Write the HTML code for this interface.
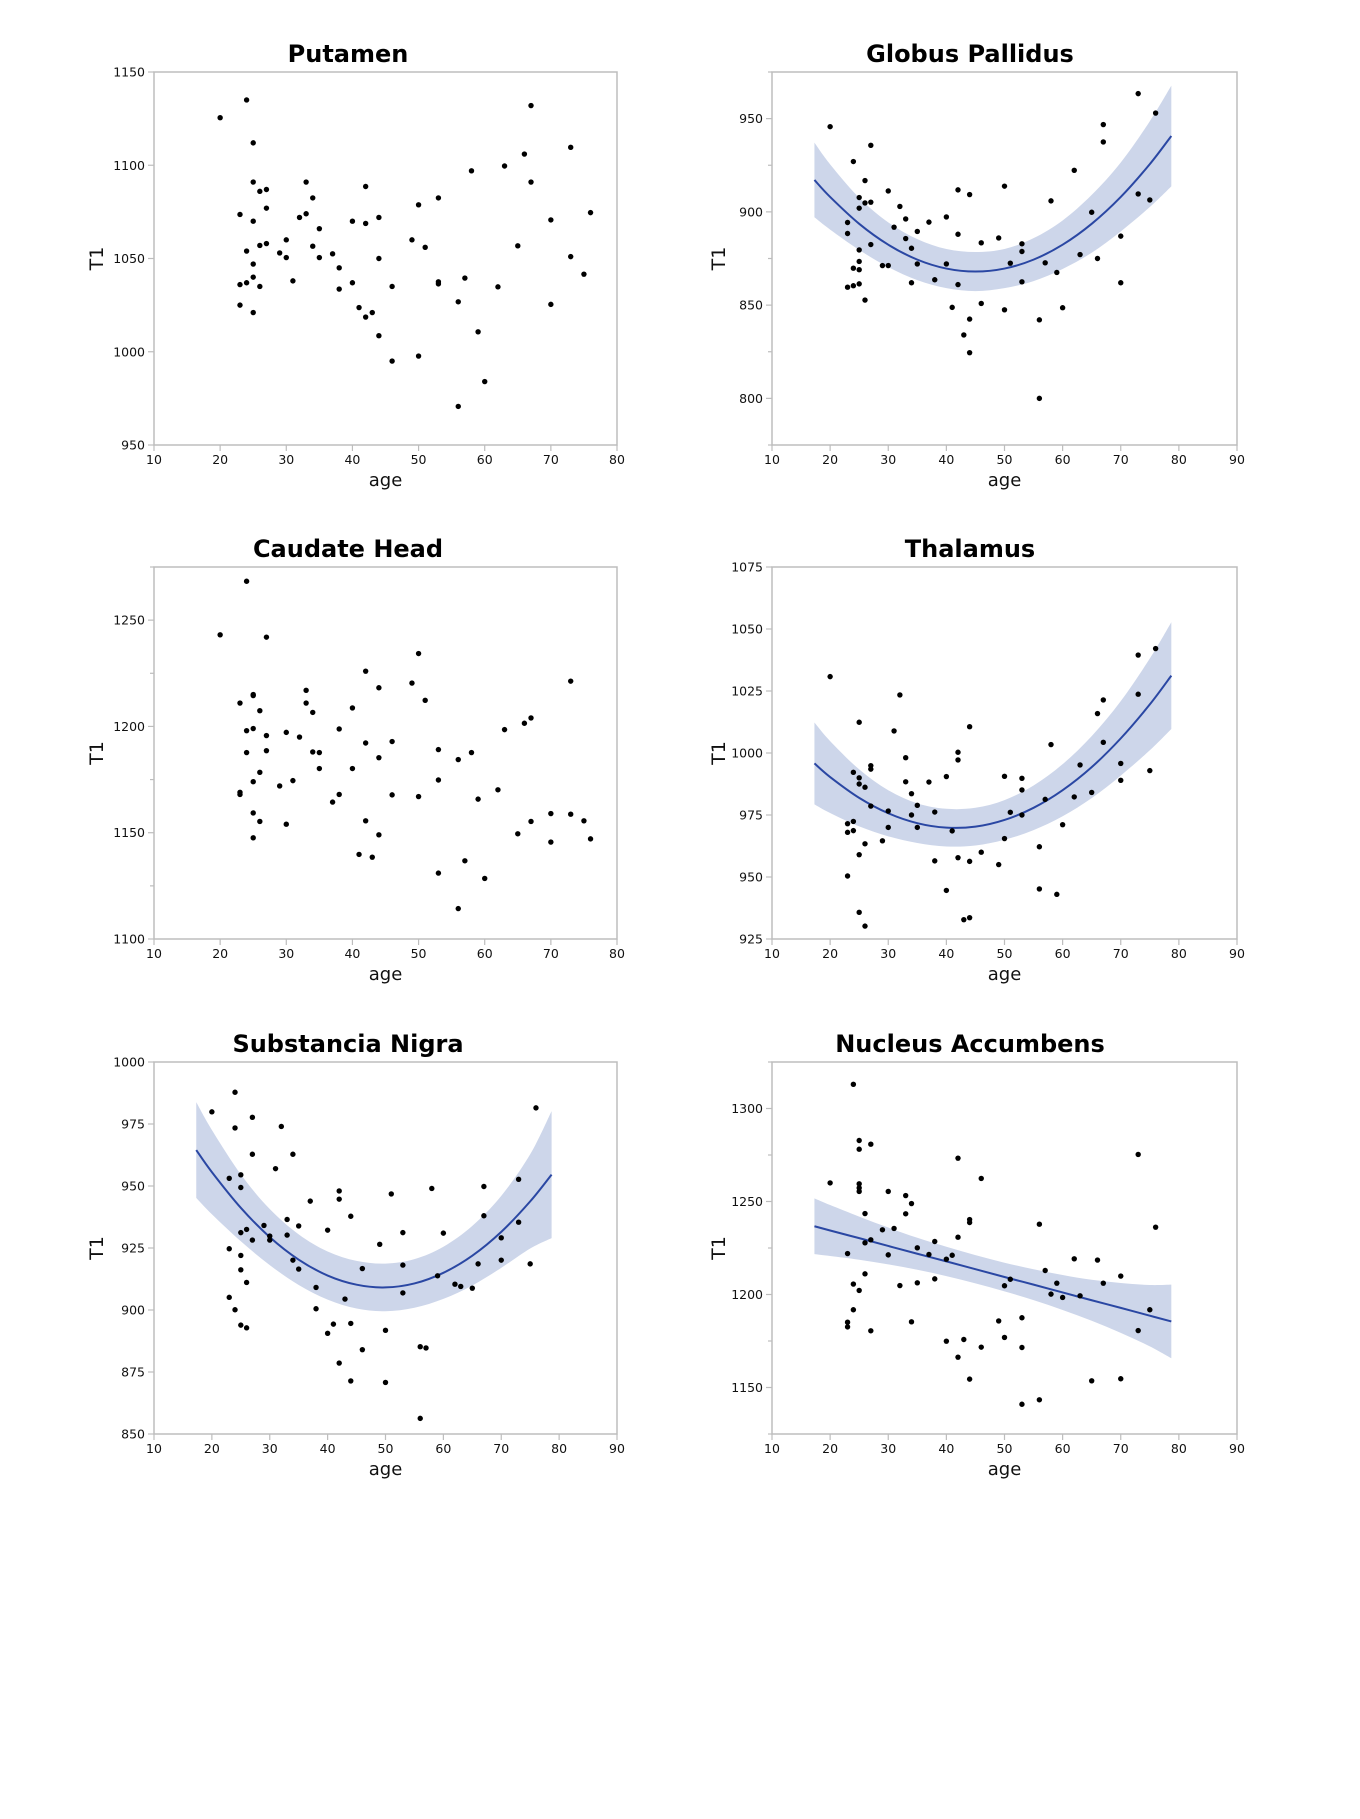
<!DOCTYPE html>
<html><head><meta charset="utf-8"><style>
html,body{margin:0;padding:0;background:#fff;}
svg text{font-family:"DejaVu Sans","Liberation Sans",sans-serif;}
</style></head><body>
<svg id="fig" width="1360" height="1814" viewBox="0 0 1360 1814" xmlns="http://www.w3.org/2000/svg"></svg>
<script>
// shared ages (same subjects in every panel)
const putAges=[20,24,25,25,26,27,27,23,25,24,25,26,27,23,24,25,26,23,25,29,30,30,31,32,33,33,34,34,35,35,37,38,38,40,40,41,42,42,42,43,44,44,44,46,46,49,50,50,51,53,53,53,56,56,57,58,59,60,62,63,65,66,67,67,70,70,73,73,75,76];
const putT1=[1125.5,1135,1112,1091,1086,1087,1077,1073.6,1070,1054,1047,1057,1058,1036,1037,1040,1035,1025,1021,1053,1060,1050.5,1038,1072,1074,1091,1082.5,1056.6,1066,1050.5,1052.5,1045,1033.6,1070,1037,1023.7,1088.6,1068.8,1018.6,1021,1072,1050,1008.6,1035,995,1060,1078.8,997.7,1056,1082.5,1037.5,1036.4,1026.8,970.7,1039.5,1097,1010.7,984,1034.8,1099.6,1056.8,1106,1132,1091,1070.7,1025.4,1109.6,1051,1041.6,1074.6];

const gpAges=[20,24,23,23,24,23,24,25,25,25,25,25,25,26,26,26,27,27,27,29,30,30,31,32,33,33,34,34,35,35,37,38,40,40,41,42,42,42,43,44,44,44,46,46,49,50,50,51,53,53,53,56,56,57,58,59,60,62,63,65,66,67,67,70,70,73,73,75,76];
const gpT1=[945.7,927,894.3,888.4,869.8,859.6,860.4,907.7,902,879.6,873.4,869,861.4,916.8,904.8,852.7,935.7,905.2,882.5,871.2,911.2,871.2,891.8,902.9,896.2,885.7,880.5,862,889.5,872.1,894.5,863.6,897.3,872.1,848.8,911.8,888,861,834,909.3,842.5,824.5,883.4,850.9,886,913.8,847.5,872.5,882.9,878.75,862.5,842.1,800,872.7,905.9,867.5,848.6,922.3,877.1,899.8,875,946.8,937.5,887,862,963.4,909.6,906.4,953];

const cdAges=[24,20,27,23,25,25,26,24,25,27,24,27,26,25,23,23,25,26,25,29,30,30,31,32,33,33,34,34,35,35,37,38,38,40,40,41,42,42,42,43,44,44,44,46,46,49,50,50,51,53,53,53,56,56,57,58,59,60,62,63,65,66,67,67,70,70,73,73,75,76];
const cdT1=[1268.3,1243.1,1242,1211,1215,1214.5,1207.4,1198,1199,1195.7,1187.7,1188.6,1178.4,1174,1169,1168,1159.3,1155.3,1147.6,1172,1197.2,1154,1174.5,1195,1217,1211,1206.6,1188,1187.7,1180.2,1164.4,1198.8,1168,1208.7,1180.2,1139.8,1226,1192.2,1155.6,1138.5,1218.2,1185.3,1149,1192.9,1167.8,1220.4,1234.3,1167,1212.3,1189.1,1174.8,1131,1184.4,1114.3,1136.8,1187.7,1165.8,1128.5,1170.2,1198.5,1149.5,1201.5,1204,1155.3,1159,1145.6,1221.3,1158.7,1155.6,1147.1];

const thAges=[20,23,23,23,24,24,24,25,25,25,25,25,26,26,26,27,27,27,29,30,30,31,32,33,33,34,34,35,35,37,38,38,40,40,41,42,42,42,43,44,44,44,46,49,50,50,51,53,53,53,56,56,57,58,59,60,62,63,65,66,67,67,70,70,73,73,75,76];
const thT1=[1030.8,971.5,968,950.4,992.2,972.4,968.7,1012.4,990,987.5,959,935.75,986.2,963.4,930.2,994.9,993.5,978.6,964.6,976.6,970,1008.9,1023.4,998.1,988.4,983.6,975,978.9,970,988.3,976.2,956.5,990.5,944.6,968.6,1000.3,997.2,957.8,932.8,1010.6,956.3,933.6,960,955,990.6,965.5,976.1,989.8,985.1,975,962.2,945.2,981.3,1003.4,943,971.1,982.3,995.2,984.1,1015.9,1021.4,1004.3,995.8,989,1039.5,1023.7,992.9,1042.1];

const snAges=[20,24,23,24,25,25,25,26,23,25,25,26,23,24,25,26,27,27,27,29,30,30,31,32,33,33,34,34,35,35,37,38,38,40,40,41,42,42,42,43,44,44,44,46,46,49,50,50,51,53,53,53,56,56,57,58,59,60,62,63,65,66,67,67,70,70,73,73,75,76];
const snT1=[979.9,987.8,953.1,973.4,954.5,949.4,931.2,932.5,924.7,922,916.2,911.1,905.1,900.1,893.9,892.8,977.7,962.8,928.2,934.1,929.8,928.2,957,974,936.5,930.2,962.8,920.1,933.9,916.5,943.9,909.1,900.5,932.2,890.6,894.3,948,944.7,878.6,904.4,937.8,894.6,871.4,916.7,884,926.5,891.8,870.8,946.8,931.2,918.1,906.9,885.2,856.3,884.7,949,913.8,931,910.4,909.5,908.8,918.6,949.8,938,929.1,920.1,952.7,935.4,918.6,981.5];

const naAges=[20,23,23,23,24,24,24,25,25,25,25,25,25,26,26,26,27,27,27,29,30,30,31,32,33,33,34,34,35,35,37,38,38,40,40,41,42,42,42,43,44,44,44,46,46,49,50,50,51,53,53,53,56,56,57,58,59,60,62,63,65,66,67,70,70,73,73,75,76];
const naT1=[1260,1222,1185.1,1182.6,1313,1205.6,1191.8,1282.8,1278.1,1259.5,1257.3,1255.4,1202.2,1243.5,1227.8,1211.1,1280.8,1229.4,1180.5,1234.8,1255.4,1221.3,1235.5,1204.8,1253.2,1243.4,1248.9,1185.3,1225.1,1206.3,1221.5,1228.5,1208.4,1219,1174.9,1221.1,1273.3,1230.8,1166.3,1175.8,1240.3,1238.7,1154.5,1262.4,1171.7,1185.8,1204.7,1176.9,1208.2,1187.5,1171.5,1141,1237.8,1143.4,1212.9,1200.2,1206.1,1198.4,1219.2,1199.3,1153.6,1218.5,1206.1,1209.9,1154.7,1275.3,1180.6,1191.8,1236.2];

// fitted curves
const fitAges=[17.3,20,25,30,35,40,45,50,55,60,65,70,75,78.7];
const gpFit=[917.1,908,893.6,882.4,874.4,869.6,868,869.6,874.4,882.4,893.6,908,925.6,940.7];
const gpHalf=[20,17.5,14,12,11,10.5,10.5,10.5,11.5,13,15.5,18.5,23,27];
const thFit=[995.8,990.3,981.9,975.7,971.7,969.9,970.3,973,977.9,985,994.3,1005.9,1019.6,1031.2];
const thHalf=[16.5,14.5,11.5,9.3,8,7.6,7.6,8,9,10.5,12.5,15,18.5,21.5];
const snFit=[964.5,955.6,941.2,929.4,920.3,913.9,910.2,909.1,910.7,915,921.9,931.5,943.8,954.6];
const snHalf=[19.3,17,13.5,11.3,10.2,9.7,9.6,9.6,9.8,10.5,12,14.5,19,25.6];
const naFit=[1236.7,1234.4,1230.3,1226.1,1221.9,1217.8,1213.6,1209.4,1205.3,1201.1,1196.9,1192.8,1188.6,1185.5];
const naHalf=[15,13.7,11.6,9.9,8.6,7.9,7.6,7.7,8.3,9.4,11,13.4,16.5,19.8];

const NS="http://www.w3.org/2000/svg";
const svg=document.getElementById('fig');
function mk(tag,attrs,parent){const e=document.createElementNS(NS,tag);for(const k in attrs)e.setAttribute(k,attrs[k]);(parent||svg).appendChild(e);return e;}
function smooth(pts){let d='M'+pts[0][0].toFixed(2)+','+pts[0][1].toFixed(2);
 for(let i=0;i<pts.length-1;i++){const p0=pts[Math.max(0,i-1)],p1=pts[i],p2=pts[i+1],p3=pts[Math.min(pts.length-1,i+2)];
  const c1=[p1[0]+(p2[0]-p0[0])/6,p1[1]+(p2[1]-p0[1])/6],c2=[p2[0]-(p3[0]-p1[0])/6,p2[1]-(p3[1]-p1[1])/6];
  d+=' C'+c1.map(v=>v.toFixed(2)).join(',')+' '+c2.map(v=>v.toFixed(2)).join(',')+' '+p2[0].toFixed(2)+','+p2[1].toFixed(2);}
 return d;}
function panel(o){
 const g=mk('g',{});
 
 
 const X=v=>o.x0+(v-o.xmin)/(o.xmax-o.xmin)*(o.x1-o.x0);
 const Y=v=>o.y1-(v-o.ymin)/(o.ymax-o.ymin)*(o.y1-o.y0);
 const t=mk('text',{x:o.tx,y:o.y0-10,'text-anchor':'middle','font-size':24,'font-weight':'bold',fill:'#000'},g);
 t.textContent=o.title;
 
 
 const fr=mk('rect',{x:o.x0,y:o.y0,width:o.x1-o.x0,height:o.y1-o.y0,fill:'none',stroke:'#bdbdbd','stroke-width':1.5},g);
 
 
 if(o.fit){
  const up=fitAges.map((a,i)=>[X(a),Y(o.fit[i]+o.half[i])]);
  const lo=fitAges.map((a,i)=>[X(a),Y(o.fit[i]-o.half[i])]).reverse();
  const dLo=smooth(lo).replace(/^M/,'L');
  const band=mk('path',{d:smooth(up)+' '+dLo+' Z',fill:'#cdd6ea',stroke:'none'},g);
  
  
  const ln=mk('path',{d:smooth(fitAges.map((a,i)=>[X(a),Y(o.fit[i])])),fill:'none',stroke:'#2a47a3','stroke-width':2},g);
  
  
 }
 for(let v=o.ymin;v<=o.ymax+1e-6;v+=o.ystep){
  const maj=o.ylabels.includes(v);
  if(!maj&&!o.minor)continue;
  mk('line',{x1:o.x0-(maj?6:4),x2:o.x0,y1:Y(v),y2:Y(v),stroke:'#bdbdbd','stroke-width':1.2},g);
  if(maj){const l=mk('text',{x:o.x0-9,y:Y(v)+4.5,'text-anchor':'end','font-size':12.5,fill:'#111'},g);l.textContent=v;
   
   }
 }
 for(let v=o.xmin;v<=o.xmax;v+=10){
  mk('line',{x1:X(v),x2:X(v),y1:o.y1,y2:o.y1+6,stroke:'#bdbdbd','stroke-width':1.2},g);
  const l=mk('text',{x:X(v),y:o.y1+19,'text-anchor':'middle','font-size':12.5,fill:'#111'},g);l.textContent=v;
  
  
 }
 const xl=mk('text',{x:(o.x0+o.x1)/2,y:o.y1+41,'text-anchor':'middle','font-size':18,fill:'#111'},g);xl.textContent='age';
 
 
 const yc=(o.y0+o.y1)/2;
 const yl=mk('text',{x:o.ylx,y:yc,'text-anchor':'middle','font-size':19,fill:'#111',transform:'rotate(-90 '+o.ylx+' '+yc+')'},g);yl.textContent='T1';
 
 
 o.ages.forEach((a,i)=>{
  const c=mk('circle',{cx:X(a),cy:Y(o.vals[i]),r:2.7,fill:'#000'},g);
  
  
 });
}
const L={x0:154,x1:617,tx:348,ylx:103}, R={x0:772,x1:1237,tx:970,ylx:725};
const rows=[[72,445],[567,939],[1062,1434]];
panel({...L,name:'putamen',title:'Putamen',y0:rows[0][0],y1:rows[0][1],xmin:10,xmax:80,ymin:950,ymax:1150,ystep:50,ylabels:[950,1000,1050,1100,1150],ages:putAges,vals:putT1});
panel({...R,name:'globus-pallidus',title:'Globus Pallidus',y0:rows[0][0],y1:rows[0][1],xmin:10,xmax:90,ymin:775,ymax:975,ystep:25,minor:true,ylabels:[800,850,900,950],ages:gpAges,vals:gpT1,fit:gpFit,half:gpHalf});
panel({...L,name:'caudate-head',title:'Caudate Head',y0:rows[1][0],y1:rows[1][1],xmin:10,xmax:80,ymin:1100,ymax:1275,ystep:25,minor:true,ylabels:[1100,1150,1200,1250],ages:cdAges,vals:cdT1});
panel({...R,name:'thalamus',title:'Thalamus',y0:rows[1][0],y1:rows[1][1],xmin:10,xmax:90,ymin:925,ymax:1075,ystep:25,ylabels:[925,950,975,1000,1025,1050,1075],ages:thAges,vals:thT1,fit:thFit,half:thHalf});
panel({...L,name:'substancia-nigra',title:'Substancia Nigra',y0:rows[2][0],y1:rows[2][1],xmin:10,xmax:90,ymin:850,ymax:1000,ystep:25,ylabels:[850,875,900,925,950,975,1000],ages:snAges,vals:snT1,fit:snFit,half:snHalf});
panel({...R,name:'nucleus-accumbens',title:'Nucleus Accumbens',y0:rows[2][0],y1:rows[2][1],xmin:10,xmax:90,ymin:1125,ymax:1325,ystep:25,minor:true,ylabels:[1150,1200,1250,1300],ages:naAges,vals:naT1,fit:naFit,half:naHalf});
</script>
</body></html>
